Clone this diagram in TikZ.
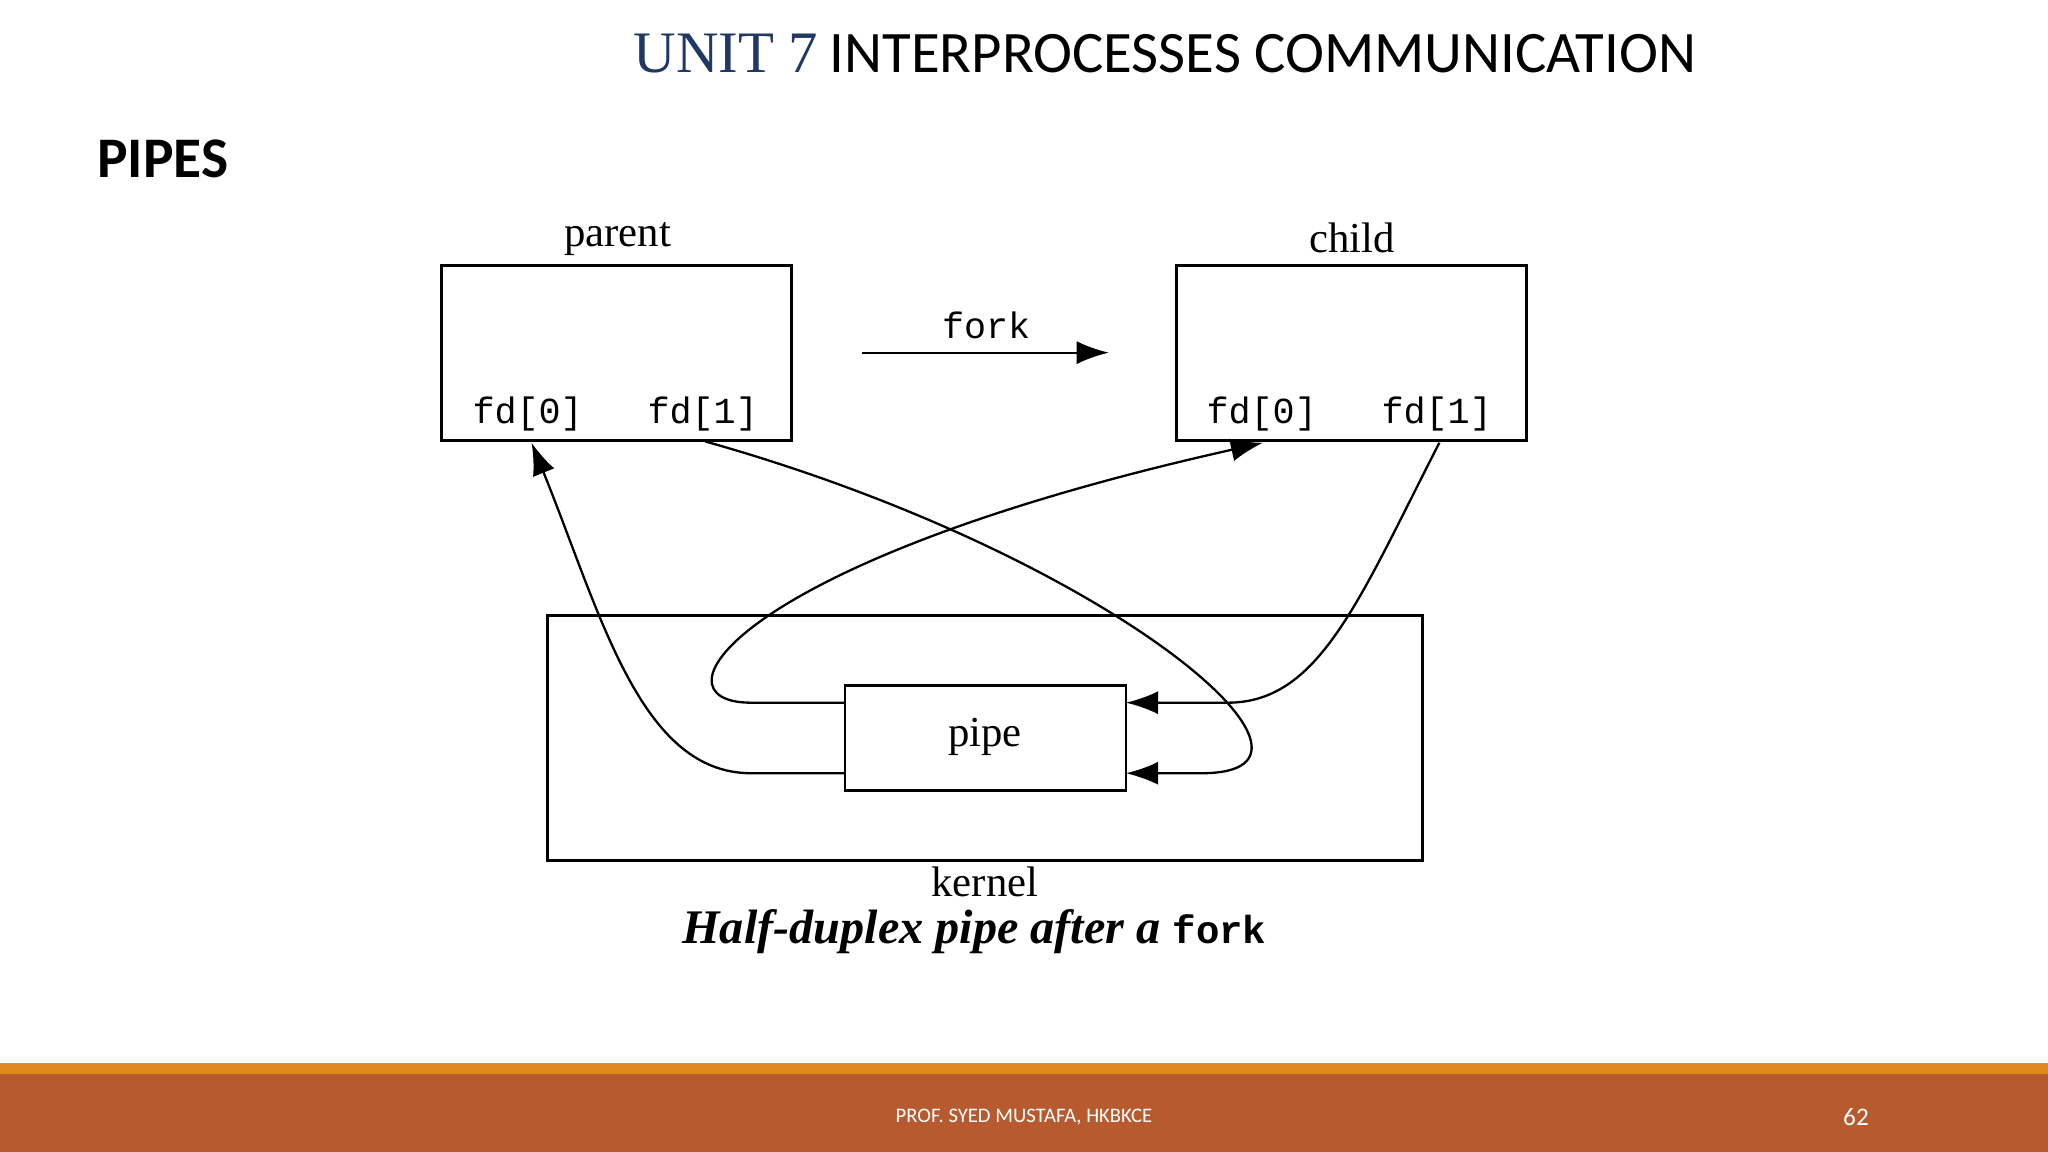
\documentclass[tikz,border=0pt]{standalone}
\usepackage{fontspec}
\setmainfont{Liberation Serif}
\newfontfamily\carl{Carlito}
\newfontfamily\monof{Liberation Mono}
\usetikzlibrary{arrows.meta}
\definecolor{footor}{HTML}{E08A1E}
\definecolor{footbr}{HTML}{B85A2F}
\definecolor{titleblue}{HTML}{1F3864}
\begin{document}
\begin{tikzpicture}[x=0.01cm,y=-0.01cm,
  box/.style={draw,line width=0.6pt},
  conn/.style={line width=0.5pt,-{Latex[length=7pt,width=5pt]}},
  lbl/.style={font=\fontsize{9.3}{11}\selectfont},
  fdl/.style={font=\monof\fontsize{8}{10}\selectfont}]
\useasboundingbox[fill=white] (0,0) rectangle (1568,882);
\fill[footor] (0,814) rectangle (1568,822);
\fill[footbr] (0,822) rectangle (1568,882);
\node[text=white,font=\carl\fontsize{4.5}{5}\selectfont] (foot) at (784,855) {PROF. SYED MUSTAFA, HKBKCE};
\node[text=white,font=\carl\fontsize{5.5}{6}\selectfont] (pg) at (1421,855) {62};
\node (title) at (892,41) {{\color{titleblue}\fontsize{12.8}{14}\selectfont UNIT 7} {\carl\fontsize{12.8}{14}\selectfont INTERPROCESSES COMMUNICATION}};
\node[anchor=west,font=\carl\bfseries\fontsize{12.5}{14}\selectfont] (pipes) at (62,122) {PIPES};
% boxes
\draw[box] (338,203) rectangle (606,337);
\draw[box] (901,203) rectangle (1169,337);
\draw[box] (419,471) rectangle (1089,659);
\draw[box] (647,525) rectangle (862,605);
\node[lbl] (pl) at (473,183) {parent};
\node[lbl] (cl) at (1035,182) {child};
\node[lbl] (pp) at (754,564) {pipe};
\node[lbl] (kl) at (754,675) {kernel};
\node[fdl] (p0) at (404,317) {fd[0]};
\node[fdl] (p1) at (538,317) {fd[1]};
\node[fdl] (c0) at (966,317) {fd[0]};
\node[fdl] (c1) at (1100,317) {fd[1]};
\node[fdl] (fk) at (755,249) {fork};
\coordinate (fa) at (660,270); \coordinate (fb) at (849,270);
\draw[conn] (fa) -- (fb);
\node (cap) at (746,713) {\fontsize{10.5}{12}\selectfont\bfseries\itshape Half-duplex pipe after a {\monof\upshape\fontsize{8.5}{10}\selectfont fork}};
% connectors
\coordinate (pLB) at (647,592); \coordinate (pLT) at (647,538);
\coordinate (pRB) at (862,592); \coordinate (pRT) at (862,538);
\coordinate (ap0) at (407,339); \coordinate (ap1) at (540,338);
\coordinate (ac0) at (967,339); \coordinate (ac1) at (1102,339);
\draw[conn] (pLB) -- (575,592) .. controls (490,592) and (460,470) .. (ap0);
\draw[conn] (ap1) .. controls (850,425) and (1045,592) .. (920,592) -- (pRB);
\draw[conn] (pLT) -- (575,538) .. controls (495,538) and (560,430) .. (ac0);
\draw[conn] (ac1) .. controls (1040,460) and (1010,538) .. (940,538) -- (pRT);
\end{tikzpicture}
\end{document}
